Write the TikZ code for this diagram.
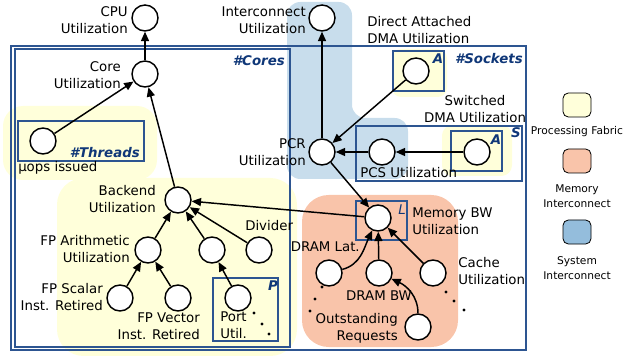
\documentclass[tikz,border=0pt]{standalone}
\usepackage{fontspec}
\setmainfont{DejaVu Sans}
\usetikzlibrary{arrows.meta}
\definecolor{fabric}{RGB}{255,255,218}
\definecolor{memic}{RGB}{249,196,170}
\definecolor{sysic}{RGB}{148,189,220}
\definecolor{sysicbg}{RGB}{200,221,236}
\definecolor{frame}{RGB}{45,85,145}
\definecolor{tag}{RGB}{15,55,120}

\begin{document}
\begin{tikzpicture}[x=0.75pt,y=-0.75pt,
  metric/.style={circle,draw,fill=white,line width=1.1pt,minimum size=19.5pt,inner sep=0pt},
  lbl/.style={inner sep=0pt,font=\fontsize{10}{12.75}\selectfont},
  tagtxt/.style={inner sep=0pt,text=tag,font=\fontsize{10}{12}\selectfont\bfseries\itshape},
  grp/.style={draw=frame,line width=0.8pt},
  flow/.style={line width=1.1pt,-{Triangle[length=7pt,width=6pt]}},
  keytxt/.style={inner sep=0pt,align=center,font=\fontsize{8}{11.25}\selectfont},
  keybox/.style={draw,rounded corners=4pt,line width=0.6pt,minimum width=21pt,minimum height=18pt}]

  \useasboundingbox (0,0) rectangle (639,356);

  % Shaded domains
  \fill[fabric, rounded corners=15pt] (3,106) rectangle (157,180);
  \fill[fabric, rounded corners=20pt] (57,178) rectangle (297,356);
  \fill[sysicbg, rounded corners=10pt] (287,2) -- (352,2) -- (352,118) -- (408,118)
    -- (408,179) -- (287,179) -- cycle;
  \fill[memic, rounded corners=20pt] (302,195) rectangle (458,347);
  \fill[fabric, rounded corners=7pt] (392,49) rectangle (447,97);
  \fill[fabric, rounded corners=8pt] (442,125) rectangle (512,176);

  % Group boxes
  \draw[grp] (11,46) rectangle (526,350);
  \draw[grp] (15,49) rectangle (290,347);
  \draw[grp] (18,121) rectangle (144,161);
  \draw[grp] (393,51) rectangle (444,91);
  \draw[grp] (356,126) rectangle (522,181);
  \draw[grp] (451,131) rectangle (502,171);
  \draw[grp] (356,201) rectangle (407,240);
  \draw[grp] (213,278) rectangle (278,341);

  % Group tags
  \node[tagtxt, anchor=east] (tcores) at (285,61) {\#Cores};
  \node[tagtxt, anchor=east] (tsockets) at (523,59) {\#Sockets};
  \node[tagtxt, anchor=east] (tthreads) at (140,153) {\#Threads};
  \node[tagtxt] (ta1) at (438,59) {A};
  \node[tagtxt] (ta2) at (496,140) {A};
  \node[tagtxt] (ts) at (516,133) {S};
  \node[tagtxt, font=\fontsize{10}{12}\selectfont\itshape] (tl) at (402,210) {L};
  \node[tagtxt] (tp) at (273,286) {P};

  % Metrics
  \node[metric] (cpu) at (145,18) {};
  \node[metric] (icu) at (322,18) {};
  \node[metric] (core) at (145,74) {};
  \node[metric] (thr) at (43,141) {};
  \node[metric] (back) at (178,200) {};
  \node[metric] (fpa) at (148,250) {};
  \node[metric] (portp) at (212,250) {};
  \node[metric] (div) at (259,250) {};
  \node[metric] (fps) at (120,298) {};
  \node[metric] (fpv) at (178,298) {};
  \node[metric] (port) at (238,298) {};
  \node[metric] (pcr) at (322,152) {};
  \node[metric] (adir) at (416,71) {};
  \node[metric] (pcs) at (382,152) {};
  \node[metric] (asw) at (477,152) {};
  \node[metric] (mbw) at (378,218) {};
  \node[metric] (dlat) at (329,273) {};
  \node[metric] (dbw) at (379,273) {};
  \node[metric] (cache) at (433,273) {};
  \node[metric] (outreq) at (418,327) {};

  % Labels
  \node[lbl, anchor=east, align=right] (cpulbl) at (128,20) {CPU\\Utilization};
  \node[lbl, anchor=east, align=right] (iculbl) at (306,20) {Interconnect\\Utilization};
  \node[lbl, anchor=east, align=right] (corelbl) at (121,75) {Core\\Utilization};
  \node[lbl, anchor=west] (thrlbl) at (18,168) {µops issued};
  \node[lbl, anchor=east, align=right] (backlbl) at (156,199) {Backend\\Utilization};
  \node[lbl, anchor=east, align=right] (fpalbl) at (130,249) {FP Arithmetic\\Utilization};
  \node[lbl, anchor=west] (divlbl) at (245,226) {Divider};
  \node[lbl, anchor=east, align=right] (fpslbl) at (103,297) {FP Scalar\\Inst. Retired};
  \node[lbl, anchor=east, align=right] (fpvlbl) at (200,326) {FP Vector\\Inst. Retired};
  \node[lbl, anchor=west, align=left] (portlbl) at (220,325) {Port\\Util.};
  \node[lbl, anchor=east, align=right] (pcrlbl) at (306,152) {PCR\\Utilization};
  \node[lbl, anchor=west, align=left] (adirlbl) at (367,30) {Direct Attached\\DMA Utilization};
  \node[lbl, align=center] (aswlbl) at (475,109) {Switched\\DMA Utilization};
  \node[lbl, anchor=west] (pcslbl) at (360,173) {PCS Utilization};
  \node[lbl, anchor=west, align=left] (mbwlbl) at (412,221) {Memory BW\\Utilization};
  \node[lbl, anchor=east] (dlatlbl) at (360,247) {DRAM Lat.};
  \node[lbl] (dbwlbl) at (379,296) {DRAM BW};
  \node[lbl, anchor=west, align=left] (cachelbl) at (458,271) {Cache\\Utilization};
  \node[lbl, anchor=east, align=right] (outreqlbl) at (398,328) {Outstanding\\Requests};

  % Arrows
  \draw[flow] (core) -- (cpu);
  \draw[flow] (thr) -- (core);
  \draw[flow] (back) -- (core);
  \draw[flow] (fpa) -- (back);
  \draw[flow] (portp) -- (back);
  \draw[flow] (div) -- (back);
  \draw[flow] (mbw) -- (back);
  \draw[flow] (fps) -- (fpa);
  \draw[flow] (fpv) -- (fpa);
  \draw[flow] (port) -- (portp);
  \draw[flow] (pcr) -- (icu);
  \draw[flow] (adir) -- (pcr);
  \draw[flow] (pcs) -- (pcr);
  \draw[flow] (asw) -- (pcs);
  \draw[flow] (pcr) -- (mbw);
  \draw[flow] (dlat) to[out=15,in=-115] (mbw);
  \draw[flow] (dbw) -- (mbw);
  \draw[flow] (cache) -- (mbw);
  \draw[flow] (outreq) to[out=90,in=-25] (dbw);

  % More instances
  \foreach \px/\py in {254/313, 262/324, 269/334, 322/287, 315/299, 310/311, 446/292, 454/301, 464/310}
    \fill (\px,\py) circle[radius=1.6];

  % Legend
  \node[keybox, fill=fabric] (kfab) at (577,105) {};
  \node[keytxt] (kfablbl) at (577,132) {Processing Fabric};
  \node[keybox, fill=memic] (kmem) at (577,161) {};
  \node[keytxt] (kmemlbl) at (577,196) {Memory\\Interconnect};
  \node[keybox, fill=sysic] (ksys) at (577,232) {};
  \node[keytxt] (ksyslbl) at (577,268) {System\\Interconnect};

\end{tikzpicture}
\end{document}
